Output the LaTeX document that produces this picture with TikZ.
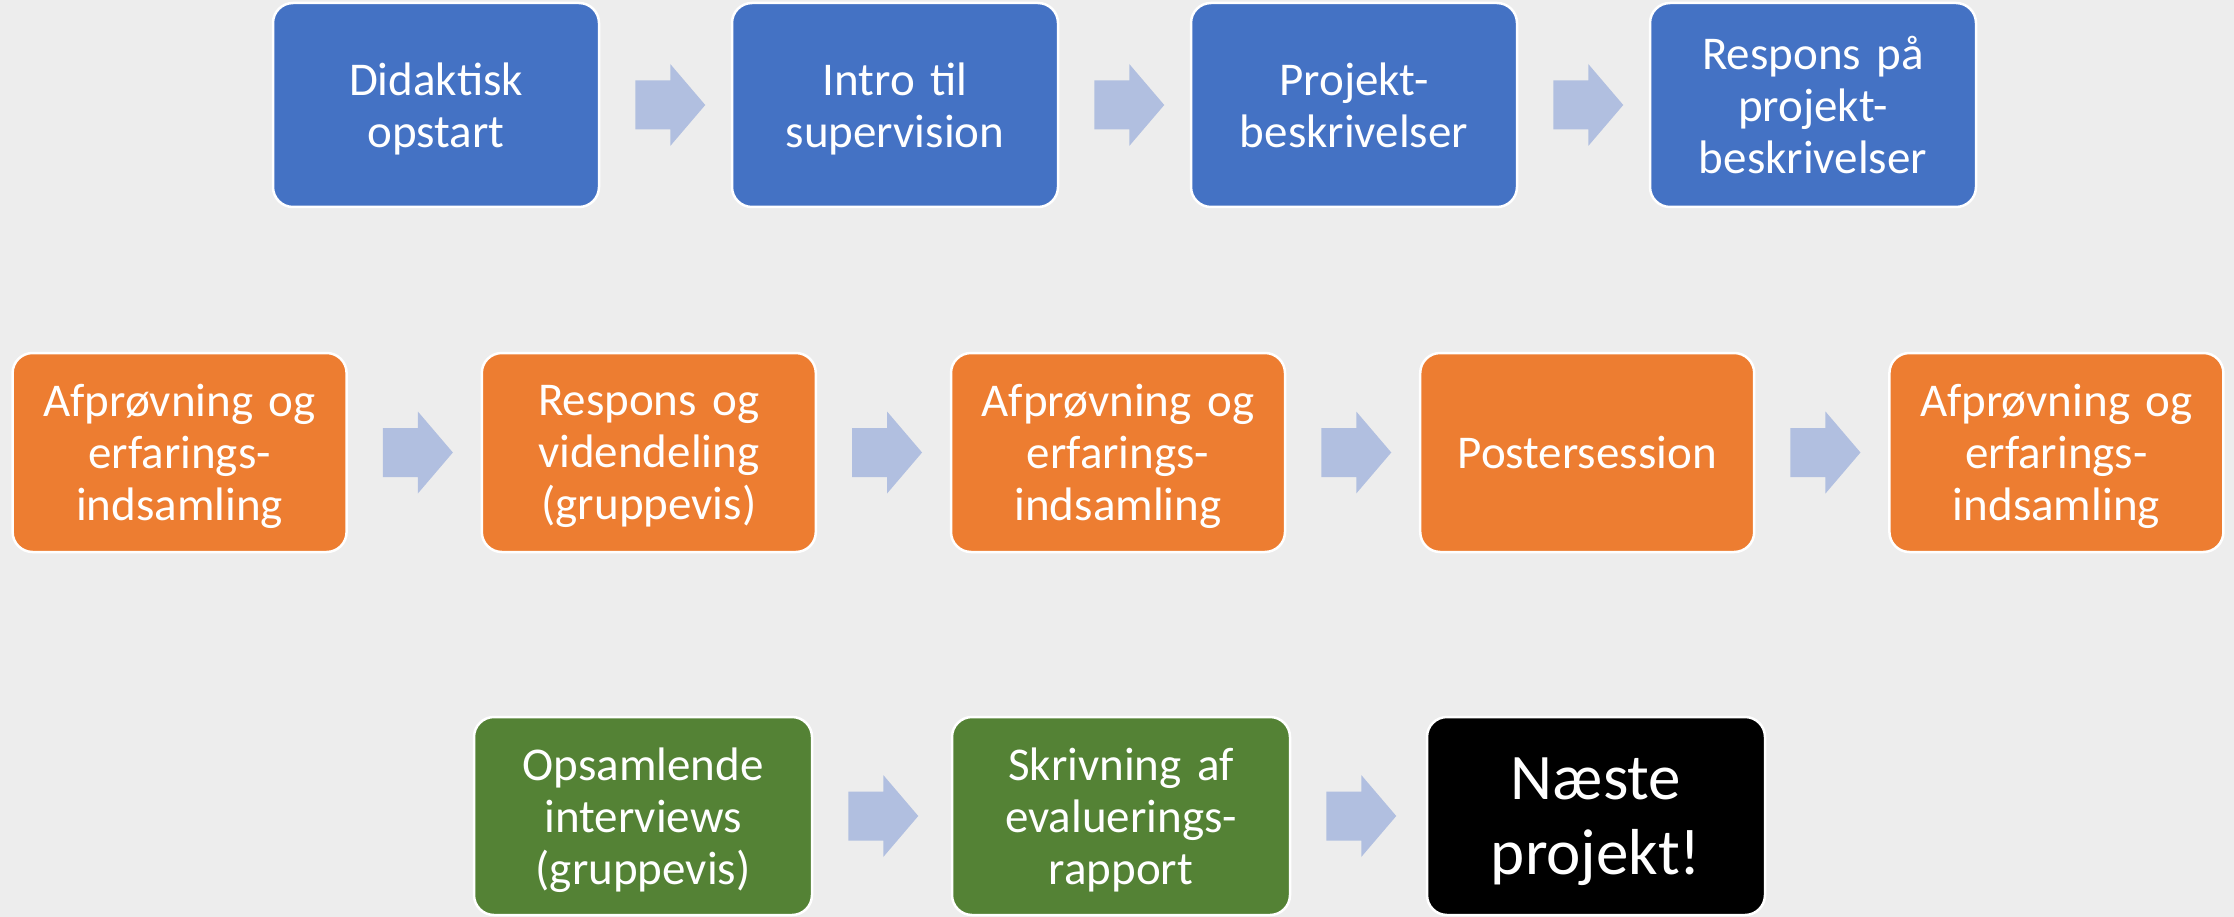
\documentclass[tikz,border=0pt]{standalone}
\usepackage{fontspec}
\setmainfont{Carlito}[WordSpace=0.85]
\definecolor{bgc}{HTML}{EDEDED}
\definecolor{bluebox}{HTML}{4472C4}
\definecolor{orangebox}{HTML}{ED7D31}
\definecolor{greenbox}{HTML}{548235}
\definecolor{arrowc}{HTML}{B1BFE0}
\newcommand\nodepth[1]{\raisebox{0pt}[\height][0pt]{#1}}
\tikzset{
  box/.style={rounded corners=20pt, draw=white, line width=2.5pt, text=white,
    align=center, inner sep=0pt, font=\fontsize{47}{52}\selectfont},
  row1/.style={box, fill=bluebox, minimum width=326pt, minimum height=204pt, text width=318pt},
  row2/.style={box, fill=orangebox, minimum width=334pt, minimum height=199pt, text width=330pt},
  row3/.style={box, fill=greenbox, minimum width=338pt, minimum height=198pt, text width=330pt},
  lastbox/.style={row3, fill=black, font=\fontsize{65}{75}\selectfont},
  arrowshape/.style={fill=arrowc, draw=none}
}
\newcommand\flowarrow[1]{%
  \fill[arrowshape] ([xshift=35pt]#1.east) ++(0,24.5) -- ++(35,0) -- ++(0,16.5)
    -- ++(35,-41) -- ++(-35,-41) -- ++(0,16.5) -- ++(-35,0) -- cycle;}
\begin{document}
\begin{tikzpicture}[x=1pt,y=-1pt]
\fill[bgc] (0,0) rectangle (2234,917);
\useasboundingbox (0,0) rectangle (2234,917);
% row 1
\node[row1] (a1) at (436,105) {Didaktisk\\\nodepth{opstart}};
\node[row1] (a2) at (895,105) {Intro til\\\nodepth{supervision}};
\node[row1] (a3) at (1354,105) {Projekt-\\\nodepth{beskrivelser}};
\node[row1] (a4) at (1813,105) {Respons på\\projekt-\\\nodepth{beskrivelser}};
\flowarrow{a1}\flowarrow{a2}\flowarrow{a3}
% row 2
\node[row2] (b1) at (179.6,452.5) {Afprøvning og\\erfarings-\\\nodepth{indsamling}};
\node[row2] (b2) at (648.8,452.5) {Respons og\\videndeling\\\nodepth{(gruppevis)}};
\node[row2] (b3) at (1118,452.5) {Afprøvning og\\erfarings-\\\nodepth{indsamling}};
\node[row2] (b4) at (1587.2,452.5) {\nodepth{Postersession}};
\node[row2] (b5) at (2056.4,452.5) {Afprøvning og\\erfarings-\\\nodepth{indsamling}};
\flowarrow{b1}\flowarrow{b2}\flowarrow{b3}\flowarrow{b4}
% row 3
\node[row3] (c1) at (643,816) {Opsamlende\\interviews\\\nodepth{(gruppevis)}};
\node[row3] (c2) at (1121,816) {Skrivning af\\evaluerings-\\\nodepth{rapport}};
\node[lastbox] (c3) at (1596,816) {Næste\\\nodepth{projekt!}};
\flowarrow{c1}\flowarrow{c2}
\end{tikzpicture}
\end{document}
